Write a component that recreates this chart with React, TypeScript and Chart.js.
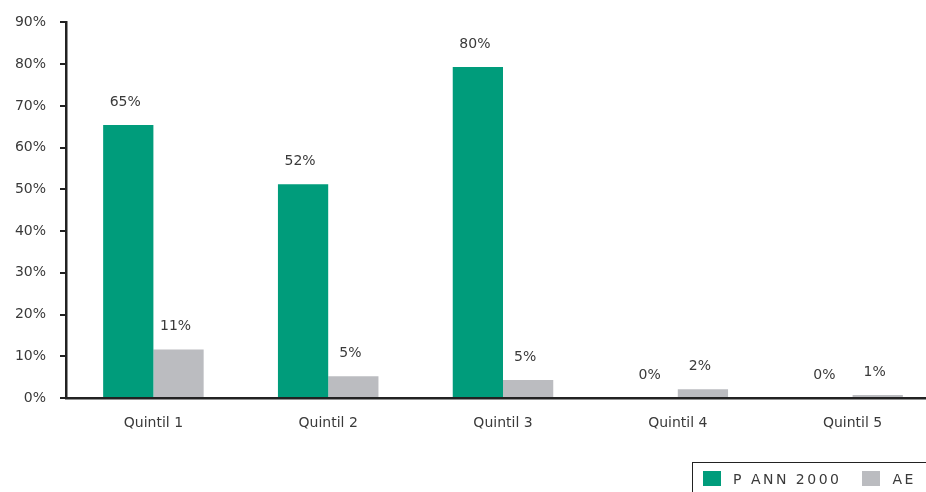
import React, { useEffect, useRef } from "react";
import { Chart, registerables } from "chart.js";

Chart.register(...registerables);

const categories = ["Quintil 1", "Quintil 2", "Quintil 3", "Quintil 4", "Quintil 5"];
const pannValues = [65.4, 51.2, 79.3, 0, 0];
const aeValues = [11.6, 5.2, 4.3, 2.1, 0.7];
const pannLabels = ["65%", "52%", "80%", "0%", "0%"];
const aeLabels = ["11%", "5%", "5%", "2%", "1%"];
const seriesNames = ["P ANN 2000", "AE"];
const yTicks = [0, 10, 20, 30, 40, 50, 60, 70, 80, 90];

const GREEN = "#009c7b";
const GRAY = "#bbbcc0";
const FONT = "'DejaVu Sans', sans-serif";
const TEXT = "#3a3a3a";

const labelPlugin = {
  id: "barLabels",
  afterDatasetsDraw(chart: any) {
    const ctx = chart.ctx;
    const texts = [pannLabels, aeLabels];
    ctx.save();
    ctx.font = `14px ${FONT}`;
    ctx.fillStyle = TEXT;
    ctx.textAlign = "center";
    ctx.textBaseline = "middle";
    chart.data.datasets.forEach((_: any, di: number) => {
      const meta = chart.getDatasetMeta(di);
      meta.data.forEach((bar: any, i: number) => {
        ctx.fillText(texts[di][i], bar.x - 3, bar.y - 23);
      });
    });
    ctx.restore();
  },
};

export default function App() {
  const ref = useRef<HTMLCanvasElement>(null);
  useEffect(() => {
    document.body.style.margin = "0";
    const chart = new Chart(ref.current!, {
      type: "bar",
      data: {
        labels: categories,
        datasets: [
          { label: seriesNames[0], data: pannValues, backgroundColor: GREEN },
          { label: seriesNames[1], data: aeValues, backgroundColor: GRAY },
        ],
      },
      options: {
        animation: false,
        responsive: false,
        maintainAspectRatio: false,
        layout: { padding: { top: 20, right: 2, bottom: 0, left: 0 } },
        datasets: { bar: { categoryPercentage: 0.575, barPercentage: 1 } },
        plugins: { legend: { display: false }, tooltip: { enabled: false } },
        scales: {
          x: {
            afterFit: (s: any) => {
              s.height = 94;
            },
            grid: { display: true, drawOnChartArea: false, drawTicks: false },
            border: { display: true, color: "#222", width: 2.5 },
            ticks: { padding: 17, color: TEXT, font: { family: FONT, size: 14 } },
          },
          y: {
            min: 0,
            max: 90,
            afterFit: (s: any) => {
              s.width = 66;
            },
            afterBuildTicks: (s: any) => {
              s.ticks = yTicks.map((v) => ({ value: v }));
            },
            grid: { display: true, drawOnChartArea: false, drawTicks: true, tickLength: 6, color: "#222", lineWidth: 2 },
            border: { display: true, color: "#222", width: 2.5 },
            ticks: {
              padding: 14,
              color: TEXT,
              font: { family: FONT, size: 14 },
              callback: (v: any) => `${v}%`,
            },
          },
        },
      },
      plugins: [labelPlugin],
    });
    return () => chart.destroy();
  }, []);

  return (
    <div style={{ position: "fixed", left: 0, top: 0, width: 926, height: 492, overflow: "hidden", background: "#fff" }}>
      <canvas ref={ref} width={942} height={492} style={{ display: "block" }} />
      <div
        style={{
          position: "absolute",
          left: 692,
          top: 462,
          width: 240,
          height: 40,
          borderTop: "1.5px solid #222",
          borderLeft: "1.5px solid #222",
          fontFamily: FONT,
          fontSize: 14,
          color: TEXT,
          display: "flex",
          alignItems: "center",
          boxSizing: "border-box",
        }}
      >
        <span style={{ display: "inline-block", width: 18, height: 15, background: GREEN, marginLeft: 10, marginTop: -8 }} />
        <span style={{ marginLeft: 12, letterSpacing: 2.5, marginTop: -8 }}>{seriesNames[0]}</span>
        <span style={{ display: "inline-block", width: 18, height: 15, background: GRAY, marginLeft: 20, marginTop: -8 }} />
        <span style={{ marginLeft: 13, letterSpacing: 2.5, marginTop: -8 }}>{seriesNames[1]}</span>
      </div>
    </div>
  );
}
